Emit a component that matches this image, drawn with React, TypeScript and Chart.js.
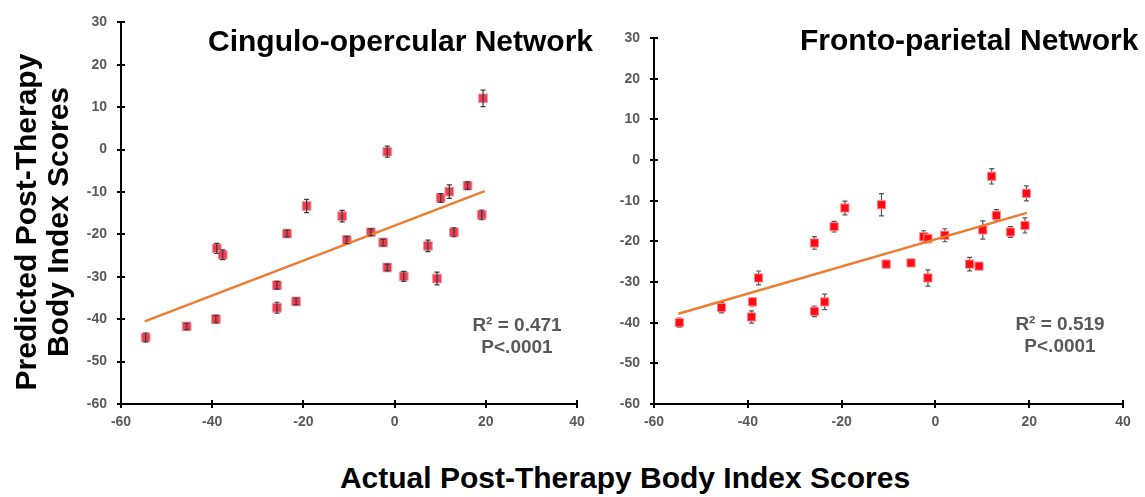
import React, { useEffect, useRef } from "react";
import { Chart, registerables } from "chart.js";

Chart.register(...registerables);

// Actual post-therapy scores (shared x values)
const ACTUAL = [-54.6, -45.6, -39.2, -39.0, -37.7, -25.8, -25.8, -23.6, -21.6, -19.3, -11.5, -10.5, -5.2, -2.5, -1.6, -1.6, 2.0, 7.3, 9.3, 10.1, 12.0, 13.0, 16.0, 19.1, 19.4];

// Cingulo-opercular network predictions and error half-widths
const CO_PRED = [-44.3, -41.7, -40.0, -23.3, -24.8, -32.0, -37.3, -19.8, -35.8, -13.3, -15.7, -21.3, -19.5, -21.9, -27.8, -0.5, -29.9, -22.7, -30.4, -11.4, -9.9, -19.5, -8.5, -15.4, 12.1];
const CO_ERR = [1.05, 0.75, 0.9, 1.2, 1.15, 0.9, 1.3, 0.8, 0.8, 1.55, 1.35, 0.85, 0.8, 0.8, 0.8, 1.3, 1.2, 1.35, 1.5, 1.05, 1.6, 1.05, 0.9, 1.15, 1.95];
const CO_TREND_X = [-54.8, 19.75];
const CO_TREND_Y = [-40.5, -9.8];

// Fronto-parietal network predictions and error half-widths
const FP_PRED = [-40.0, -36.3, -38.6, -34.9, -29.0, -20.4, -37.2, -34.9, -16.4, -11.8, -11.0, -25.6, -25.3, -18.9, -19.3, -29.0, -18.5, -25.6, -26.1, -17.2, -4.0, -13.6, -17.7, -16.1, -8.2];
const FP_ERR = [1.1, 1.3, 1.5, 1.0, 1.7, 1.55, 1.3, 1.9, 1.3, 1.7, 2.75, 0.95, 0.8, 1.5, 1.0, 2.0, 1.6, 1.65, 0.8, 2.25, 1.9, 1.4, 1.35, 1.85, 1.85];
const FP_TREND_X = [-54.8, 19.5];
const FP_TREND_Y = [-37.8, -13.0];

const X_MIN = -60;
const X_MAX = 40;
const X_STEP = 20;
const Y_MIN = -60;
const Y_MAX = 30;
const Y_STEP = 10;

const FONT = '"Liberation Sans", Arial, Helvetica, sans-serif';

type PanelProps = {
  pred: number[];
  err: number[];
  trendX: number[];
  trendY: number[];
  left: number;
  width: number;
  height: number;
  yAxisWidth: number;
  padTop: number;
  padRight: number;
  pointColor: string;
  pointBorder: string;
  pointRadius: number;
  errColor: string;
  errAbove: boolean;
};

function Panel(p: PanelProps) {
  const ref = useRef<HTMLCanvasElement | null>(null);
  useEffect(() => {
    if (!ref.current) return;
    const drawErr = (chart: any) => {
      const ctx = chart.ctx;
      const xs = chart.scales.x;
      const ys = chart.scales.y;
      ctx.save();
      ctx.strokeStyle = p.errColor;
      ctx.lineWidth = 1.2;
      ACTUAL.forEach((xv, i) => {
        const x = xs.getPixelForValue(xv);
        const y1 = ys.getPixelForValue(p.pred[i] + p.err[i]);
        const y2 = ys.getPixelForValue(p.pred[i] - p.err[i]);
        ctx.beginPath();
        ctx.moveTo(x, y1);
        ctx.lineTo(x, y2);
        ctx.moveTo(x - 2.5, y1);
        ctx.lineTo(x + 2.5, y1);
        ctx.moveTo(x - 2.5, y2);
        ctx.lineTo(x + 2.5, y2);
        ctx.stroke();
      });
      ctx.restore();
    };
    const plugin = {
      id: "errAndTicks",
      beforeDatasetsDraw(chart: any) {
        if (!p.errAbove) drawErr(chart);
      },
      afterDatasetsDraw(chart: any) {
        if (p.errAbove) drawErr(chart);
      },
      afterDraw(chart: any) {
        const ctx = chart.ctx;
        const xs = chart.scales.x;
        const ys = chart.scales.y;
        const area = chart.chartArea;
        ctx.save();
        ctx.strokeStyle = "#000";
        ctx.lineWidth = 2;
        ctx.beginPath();
        xs.ticks.forEach((t: any) => {
          const x = Math.round(xs.getPixelForValue(t.value));
          ctx.moveTo(x, area.bottom - 4);
          ctx.lineTo(x, area.bottom + 4);
        });
        ys.ticks.forEach((t: any) => {
          const y = Math.round(ys.getPixelForValue(t.value));
          ctx.moveTo(area.left - 4, y);
          ctx.lineTo(area.left + 4, y);
        });
        ctx.stroke();
        ctx.restore();
      },
    };
    const tickFont = { family: FONT, size: 14, weight: "bold" as const };
    const chart = new Chart(ref.current, {
      type: "scatter",
      data: {
        datasets: [
          {
            type: "line" as any,
            data: p.trendX.map((x, i) => ({ x, y: p.trendY[i] })),
            borderColor: "#ED7D31",
            borderWidth: 2.5,
            pointRadius: 0,
            fill: false,
          } as any,
          {
            data: ACTUAL.map((x, i) => ({ x, y: p.pred[i] })),
            pointStyle: "rect",
            pointRadius: p.pointRadius,
            backgroundColor: p.pointColor,
            borderColor: p.pointBorder,
            borderWidth: 1,
          },
        ],
      },
      options: {
        responsive: false,
        animation: false,
        events: [],
        layout: { padding: { top: p.padTop, right: p.padRight, left: 0, bottom: 0 } },
        plugins: {
          legend: { display: false },
          tooltip: { enabled: false },
          title: { display: false },
        },
        scales: {
          x: {
            type: "linear",
            min: X_MIN,
            max: X_MAX,
            ticks: {
              stepSize: X_STEP,
              color: "#595959",
              font: tickFont,
              padding: 10,
              maxRotation: 0,
              autoSkip: false,
            },
            grid: { display: true, drawOnChartArea: false, drawTicks: false },
            border: { display: true, color: "#000", width: 2 },
            afterFit: (s: any) => {
              s.height = 36;
            },
          },
          y: {
            type: "linear",
            min: Y_MIN,
            max: Y_MAX,
            ticks: {
              stepSize: Y_STEP,
              color: "#595959",
              font: tickFont,
              padding: 14,
              autoSkip: false,
            },
            grid: { display: true, drawOnChartArea: false, drawTicks: false },
            border: { display: true, color: "#000", width: 2 },
            afterFit: (s: any) => {
              s.width = p.yAxisWidth;
            },
          },
        },
      },
      plugins: [plugin],
    });
    return () => chart.destroy();
  }, []);
  return (
    <canvas
      ref={ref}
      width={p.width}
      height={p.height}
      style={{ position: "absolute", left: p.left, top: 0, width: p.width, height: p.height }}
    />
  );
}

const textBase: React.CSSProperties = {
  position: "absolute",
  fontFamily: FONT,
  fontWeight: "bold",
  whiteSpace: "nowrap",
};

export default function App() {
  return (
    <div
      style={{
        position: "absolute",
        left: 0,
        top: 0,
        width: 1145,
        height: 497,
        background: "#fff",
        overflow: "hidden",
      }}
    >
      <Panel
        pred={CO_PRED}
        err={CO_ERR}
        trendX={CO_TREND_X}
        trendY={CO_TREND_Y}
        left={0}
        width={600}
        height={440}
        yAxisWidth={121}
        padTop={19}
        padRight={23}
        pointColor="#EF3E52"
        pointBorder="#F49AA4"
        pointRadius={6.2}
        errColor="#3a3a3a"
        errAbove={true}
      />
      <Panel
        pred={FP_PRED}
        err={FP_ERR}
        trendX={FP_TREND_X}
        trendY={FP_TREND_Y}
        left={600}
        width={545}
        height={440}
        yAxisWidth={54}
        padTop={38}
        padRight={22}
        pointColor="#FF0A14"
        pointBorder="#FF8A8A"
        pointRadius={5.8}
        errColor="#555555"
        errAbove={false}
      />
      <div style={{ ...textBase, left: 208, top: 26, fontSize: 30, lineHeight: "30px", color: "#000" }}>
        Cingulo-opercular Network
      </div>
      <div style={{ ...textBase, left: 800, top: 25, fontSize: 30, lineHeight: "30px", color: "#000" }}>
        Fronto-parietal Network
      </div>
      <div
        style={{
          ...textBase,
          left: 457,
          top: 314,
          width: 120,
          textAlign: "center",
          fontSize: 19,
          lineHeight: "22px",
          color: "#595959",
        }}
      >
        R² = 0.471
        <br />
        P&lt;.0001
      </div>
      <div
        style={{
          ...textBase,
          left: 1000,
          top: 313,
          width: 120,
          textAlign: "center",
          fontSize: 19,
          lineHeight: "22px",
          color: "#595959",
        }}
      >
        R² = 0.519
        <br />
        P&lt;.0001
      </div>
      <div
        style={{
          ...textBase,
          left: 42 - 210,
          top: 222 - 32,
          width: 420,
          height: 64,
          textAlign: "center",
          fontSize: 30,
          lineHeight: "32px",
          color: "#000",
          transform: "rotate(-90deg)",
          transformOrigin: "50% 50%",
        }}
      >
        Predicted Post-Therapy
        <br />
        Body Index Scores
      </div>
      <div
        style={{
          ...textBase,
          left: 325,
          top: 463,
          width: 600,
          textAlign: "center",
          fontSize: 30,
          lineHeight: "30px",
          color: "#000",
        }}
      >
        Actual Post-Therapy Body Index Scores
      </div>
    </div>
  );
}
